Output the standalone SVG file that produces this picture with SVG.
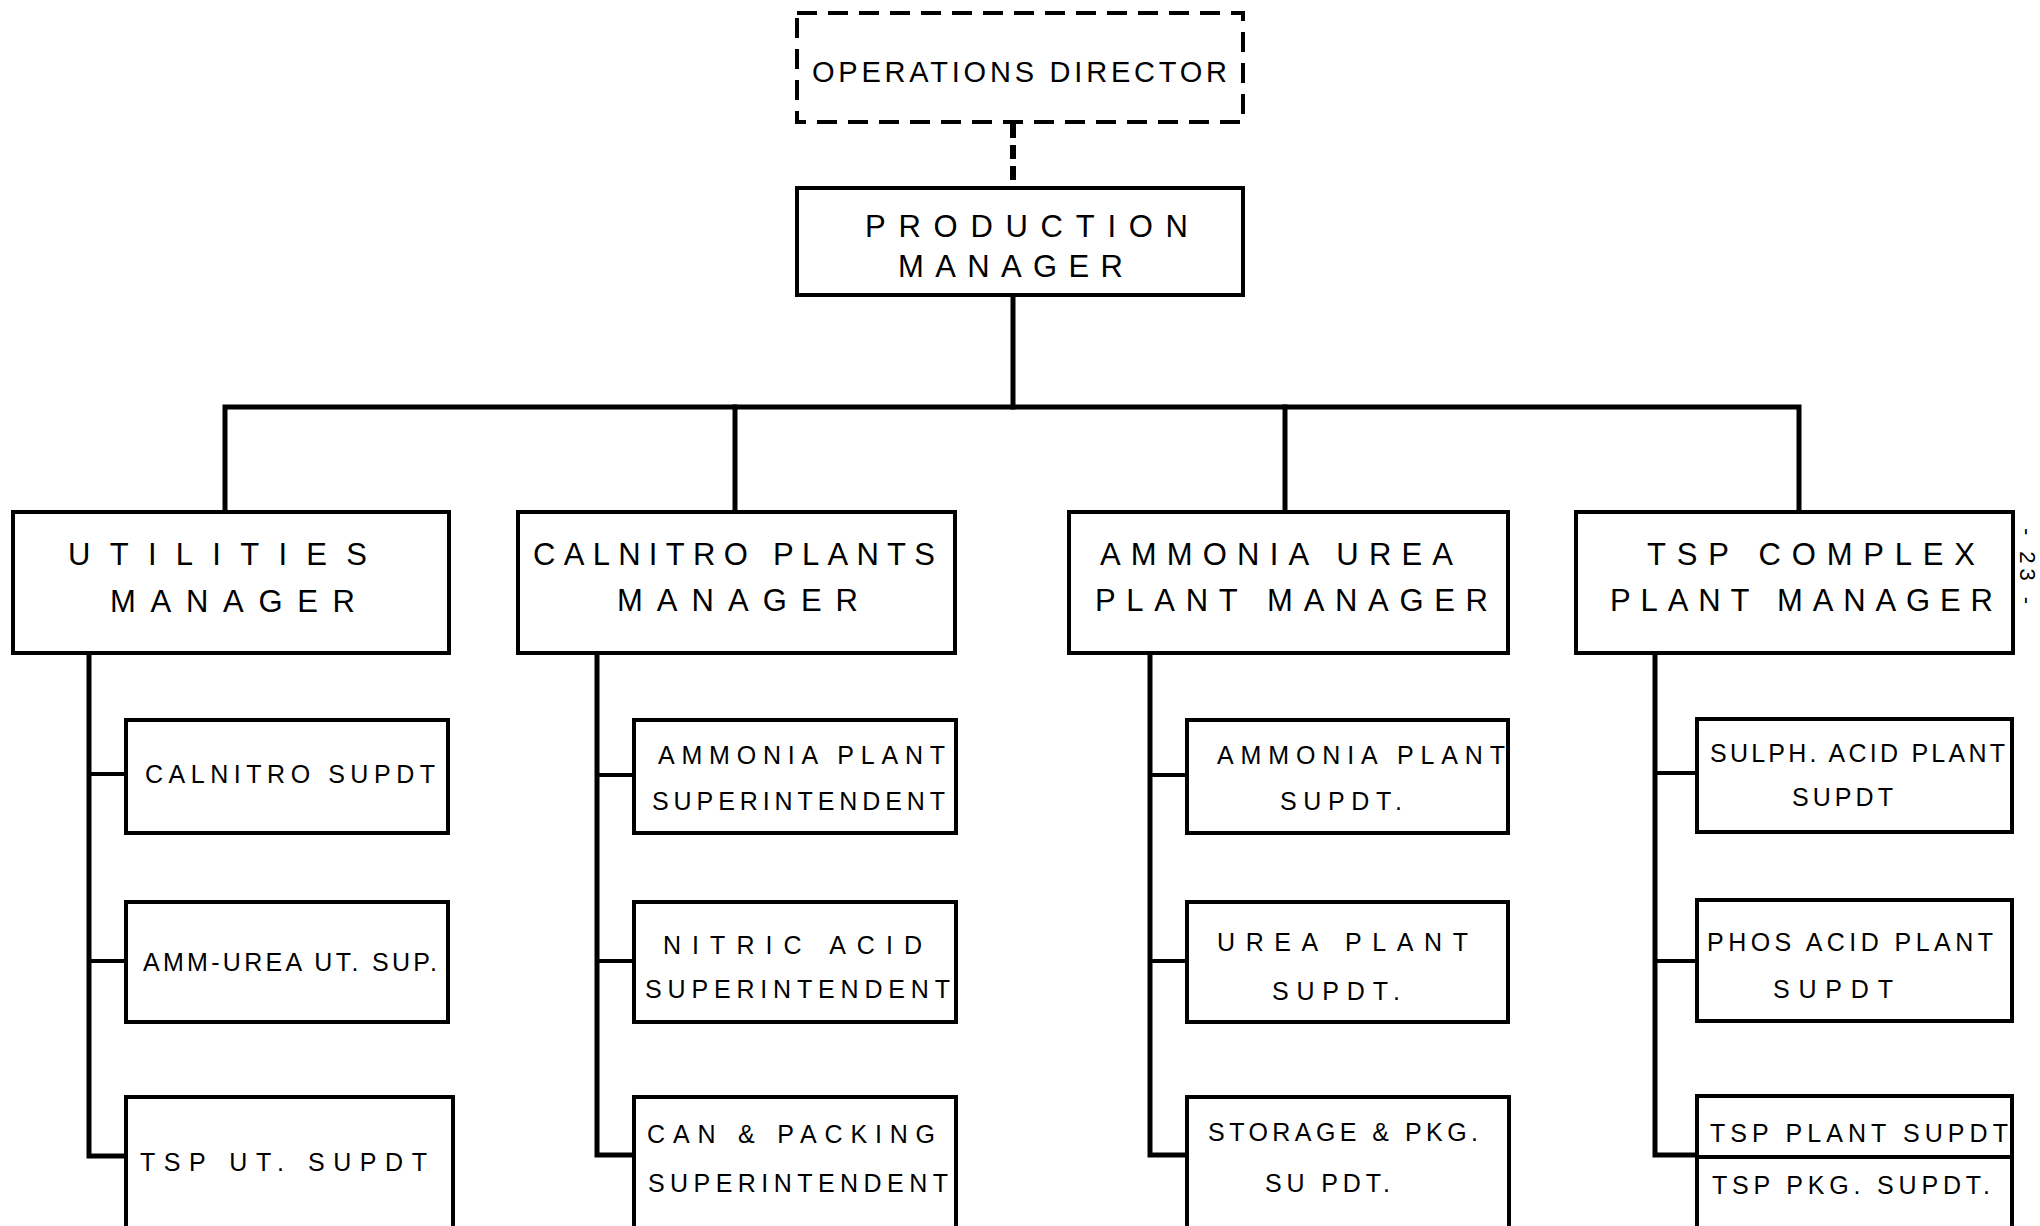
<svg xmlns="http://www.w3.org/2000/svg" width="2040" height="1226" viewBox="0 0 2040 1226">
<style>
.box{fill:#fff;stroke:#000;stroke-width:4}
.dbox{fill:#fff;stroke:#000;stroke-width:4;stroke-dasharray:20 11}
.ln{fill:none;stroke:#000;stroke-width:5;stroke-linecap:square}
.stub{fill:none;stroke:#000;stroke-width:4}
.dl{fill:none;stroke:#000;stroke-width:6;stroke-dasharray:14 7}
text{font-family:"Liberation Sans","DejaVu Sans",sans-serif;fill:#000}
.t1{font-size:29px}
.t2{font-size:31px}
.t3{font-size:25px}
.pg{font-size:22px}
</style>
<rect width="2040" height="1226" fill="#fff"/>
<g id="connectors">
<line class="dl" x1="1013" y1="124" x2="1013" y2="186"/>
<line class="ln" x1="1013" y1="295" x2="1013" y2="407"/>
<polyline class="ln" points="225,510 225,407 1799,407 1799,510"/>
<line class="ln" x1="735" y1="407" x2="735" y2="510"/>
<line class="ln" x1="1285" y1="407" x2="1285" y2="510"/>
<polyline class="ln" points="89,653 89,1156 126,1156"/>
<line class="stub" x1="89" y1="774" x2="126" y2="774"/>
<line class="stub" x1="89" y1="961" x2="126" y2="961"/>
<polyline class="ln" points="597,653 597,1155 634,1155"/>
<line class="stub" x1="597" y1="775" x2="634" y2="775"/>
<line class="stub" x1="597" y1="961" x2="634" y2="961"/>
<polyline class="ln" points="1150,653 1150,1155 1187,1155"/>
<line class="stub" x1="1150" y1="775" x2="1187" y2="775"/>
<line class="stub" x1="1150" y1="961" x2="1187" y2="961"/>
<polyline class="ln" points="1655,653 1655,1155 1697,1155"/>
<line class="stub" x1="1655" y1="773" x2="1697" y2="773"/>
<line class="stub" x1="1655" y1="961" x2="1697" y2="961"/>
</g>
<g id="operations-director">
<rect class="dbox" x="797" y="13" width="446" height="109"/>
<text class="t1" x="812" y="82" textLength="415" lengthAdjust="spacing">OPERATIONS DIRECTOR</text>
</g>
<g id="production-manager">
<rect class="box" x="797" y="188" width="446" height="107"/>
<text class="t2" x="865" y="237" textLength="323" lengthAdjust="spacing">PRODUCTION</text>
<text class="t2" x="898" y="277" textLength="225" lengthAdjust="spacing">MANAGER</text>
</g>
<g id="utilities-manager">
<rect class="box" x="13" y="512" width="436" height="141"/>
<text class="t2" x="68" y="565" textLength="299" lengthAdjust="spacing">UTILITIES</text>
<text class="t2" x="110" y="612" textLength="245" lengthAdjust="spacing">MANAGER</text>
</g>
<g id="calnitro-manager">
<rect class="box" x="518" y="512" width="437" height="141"/>
<text class="t2" x="533" y="565" textLength="402" lengthAdjust="spacing">CALNITRO PLANTS</text>
<text class="t2" x="617" y="611" textLength="241" lengthAdjust="spacing">MANAGER</text>
</g>
<g id="ammonia-urea-manager">
<rect class="box" x="1069" y="512" width="439" height="141"/>
<text class="t2" x="1100" y="565" textLength="353" lengthAdjust="spacing">AMMONIA  UREA</text>
<text class="t2" x="1095" y="611" textLength="393" lengthAdjust="spacing">PLANT  MANAGER</text>
</g>
<g id="tsp-manager">
<rect class="box" x="1576" y="512" width="437" height="141"/>
<text class="t2" x="1647" y="565" textLength="328" lengthAdjust="spacing">TSP   COMPLEX</text>
<text class="t2" x="1610" y="611" textLength="383" lengthAdjust="spacing">PLANT  MANAGER</text>
</g>
<g id="calnitro-supdt">
<rect class="box" x="126" y="720" width="322" height="113"/>
<text class="t3" x="145" y="783" textLength="290" lengthAdjust="spacing">CALNITRO SUPDT</text>
</g>
<g id="amm-urea-ut-sup">
<rect class="box" x="126" y="902" width="322" height="120"/>
<text class="t3" x="143" y="971" textLength="294" lengthAdjust="spacing">AMM-UREA UT. SUP.</text>
</g>
<g id="tsp-ut-supdt">
<rect class="box" x="126" y="1097" width="327" height="140"/>
<text class="t3" x="140" y="1171" textLength="287" lengthAdjust="spacing">TSP UT. SUPDT</text>
</g>
<g id="ammonia-plant-superintendent">
<rect class="box" x="634" y="720" width="322" height="113"/>
<text class="t3" x="658" y="764" textLength="287" lengthAdjust="spacing">AMMONIA PLANT</text>
<text class="t3" x="652" y="810" textLength="293" lengthAdjust="spacing">SUPERINTENDENT</text>
</g>
<g id="nitric-acid-superintendent">
<rect class="box" x="634" y="902" width="322" height="120"/>
<text class="t3" x="663" y="954" textLength="259" lengthAdjust="spacing">NITRIC  ACID</text>
<text class="t3" x="645" y="998" textLength="305" lengthAdjust="spacing">SUPERINTENDENT</text>
</g>
<g id="can-packing-superintendent">
<rect class="box" x="634" y="1097" width="322" height="140"/>
<text class="t3" x="647" y="1143" textLength="288" lengthAdjust="spacing">CAN &amp; PACKING</text>
<text class="t3" x="648" y="1192" textLength="300" lengthAdjust="spacing">SUPERINTENDENT</text>
</g>
<g id="ammonia-plant-supdt">
<rect class="box" x="1187" y="720" width="321" height="113"/>
<text class="t3" x="1217" y="764" textLength="288" lengthAdjust="spacing">AMMONIA PLANT</text>
<text class="t3" x="1280" y="810" textLength="122" lengthAdjust="spacing">SUPDT.</text>
</g>
<g id="urea-plant-supdt">
<rect class="box" x="1187" y="902" width="321" height="120"/>
<text class="t3" x="1217" y="951" textLength="251" lengthAdjust="spacing">UREA  PLANT</text>
<text class="t3" x="1272" y="1000" textLength="128" lengthAdjust="spacing">SUPDT.</text>
</g>
<g id="storage-pkg-supdt">
<rect class="box" x="1187" y="1097" width="322" height="140"/>
<text class="t3" x="1208" y="1141" textLength="270" lengthAdjust="spacing">STORAGE &amp; PKG.</text>
<text class="t3" x="1265" y="1192" textLength="125" lengthAdjust="spacing">SU PDT.</text>
</g>
<g id="sulph-acid-plant-supdt">
<rect class="box" x="1697" y="719" width="315" height="113"/>
<text class="t3" x="1710" y="762" textLength="295" lengthAdjust="spacing">SULPH. ACID PLANT</text>
<text class="t3" x="1792" y="806" textLength="101" lengthAdjust="spacing">SUPDT</text>
</g>
<g id="phos-acid-plant-supdt">
<rect class="box" x="1697" y="900" width="315" height="121"/>
<text class="t3" x="1707" y="951" textLength="286" lengthAdjust="spacing">PHOS ACID PLANT</text>
<text class="t3" x="1773" y="998" textLength="120" lengthAdjust="spacing">SUPDT</text>
</g>
<g id="tsp-plant-pkg-supdt">
<rect class="box" x="1697" y="1096" width="315" height="141"/>
<line class="stub" x1="1697" y1="1157" x2="2012" y2="1157"/>
<text class="t3" x="1710" y="1142" textLength="298" lengthAdjust="spacing">TSP  PLANT SUPDT</text>
<text class="t3" x="1712" y="1194" textLength="278" lengthAdjust="spacing">TSP  PKG. SUPDT.</text>
</g>
<text class="pg" transform="translate(2020,566) rotate(90)" text-anchor="middle" textLength="76" lengthAdjust="spacing">- 23 -</text>
</svg>
